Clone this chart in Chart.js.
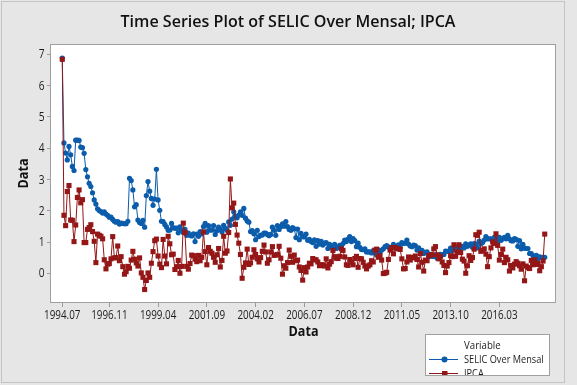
<!DOCTYPE html>
<html>
<head>
<meta charset="utf-8">
<script src="https://cdn.jsdelivr.net/npm/chart.js@4.4.1/dist/chart.umd.min.js"></script>
<style>
  html, body { margin: 0; padding: 0; background: #e6e6e6; }
  #wrap { width: 577px; height: 385px; position: relative; }
</style>
</head>
<body>
<div id="wrap"><canvas id="c"></canvas></div>
<script>
// ---- data (monthly, 1994.07 .. 2018.06) ----
const startYear = 1994, startMonth = 7;
const selic = [
  6.88, 4.17, 3.85, 3.63, 4.06, 3.79,
  3.42, 3.29, 4.26, 4.26, 4.25, 4.04, 4.02, 3.84, 3.32, 3.09, 2.88, 2.78,
  2.58, 2.35, 2.22, 2.07, 2.01, 1.98, 1.93, 1.97, 1.90, 1.86, 1.80, 1.80,
  1.73, 1.67, 1.64, 1.66, 1.58, 1.61, 1.60, 1.59, 1.59, 1.67, 3.04, 2.97,
  2.67, 2.13, 2.20, 1.71, 1.63, 1.60, 1.70, 1.48, 2.49, 2.94, 2.63, 2.40,
  2.18, 2.38, 3.33, 2.35, 2.02, 1.67, 1.66, 1.57, 1.49, 1.38, 1.39, 1.60,
  1.46, 1.45, 1.45, 1.30, 1.49, 1.39, 1.31, 1.41, 1.22, 1.29, 1.22, 1.20,
  1.27, 1.02, 1.26, 1.19, 1.34, 1.27, 1.50, 1.60, 1.32, 1.53, 1.39, 1.39,
  1.53, 1.25, 1.37, 1.48, 1.41, 1.33, 1.54, 1.44, 1.38, 1.65, 1.54, 1.74,
  1.97, 1.83, 1.78, 1.87, 1.97, 1.86, 2.08, 1.77, 1.68, 1.64, 1.34, 1.37,
  1.27, 1.08, 1.38, 1.18, 1.23, 1.23, 1.29, 1.29, 1.25, 1.21, 1.25, 1.48,
  1.38, 1.22, 1.53, 1.41, 1.50, 1.59, 1.51, 1.66, 1.50, 1.41, 1.38, 1.47,
  1.43, 1.15, 1.42, 1.08, 1.28, 1.18, 1.17, 1.26, 1.06, 1.09, 1.02, 0.99,
  1.08, 0.87, 1.05, 0.94, 1.03, 0.91, 0.97, 0.99, 0.80, 0.93, 0.84, 0.84,
  0.93, 0.80, 0.84, 0.90, 0.88, 0.96, 1.07, 1.02, 1.10, 1.18, 1.02, 1.12,
  1.05, 0.86, 0.97, 0.84, 0.77, 0.76, 0.79, 0.69, 0.69, 0.69, 0.66, 0.73,
  0.66, 0.59, 0.76, 0.67, 0.75, 0.79, 0.86, 0.89, 0.85, 0.81, 0.81, 0.93,
  0.86, 0.84, 0.92, 0.84, 0.99, 0.96, 0.97, 1.07, 0.94, 0.88, 0.86, 0.91,
  0.89, 0.75, 0.82, 0.71, 0.74, 0.64, 0.68, 0.69, 0.54, 0.61, 0.55, 0.55,
  0.60, 0.49, 0.55, 0.61, 0.60, 0.61, 0.72, 0.71, 0.71, 0.81, 0.72, 0.79,
  0.85, 0.79, 0.77, 0.82, 0.87, 0.82, 0.95, 0.87, 0.91, 0.95, 0.84, 0.96,
  0.94, 0.82, 1.04, 0.95, 0.99, 1.07, 1.18, 1.11, 1.11, 1.11, 1.06, 1.16,
  1.06, 1.00, 1.16, 1.06, 1.11, 1.16, 1.11, 1.22, 1.11, 1.05, 1.04, 1.12,
  1.09, 0.87, 1.05, 0.79, 0.93, 0.81, 0.80, 0.80, 0.64, 0.64, 0.57, 0.54,
  0.58, 0.47, 0.53, 0.52, 0.52, 0.52
];
const ipca = [
  6.84, 1.86, 1.53, 2.62, 2.81, 1.71,
  1.70, 1.02, 1.55, 2.43, 2.67, 2.26, 2.36, 0.99, 0.99, 1.41, 1.47, 1.56,
  1.34, 1.03, 0.35, 1.26, 1.22, 1.19, 1.11, 0.44, 0.15, 0.30, 0.32, 0.47,
  1.18, 0.50, 0.51, 0.88, 0.41, 0.54, 0.22, -0.02, 0.06, 0.23, 0.17, 0.43,
  0.71, 0.46, 0.34, 0.24, 0.50, 0.02, -0.12, -0.51, -0.22, 0.02, -0.12, 0.33,
  0.70, 1.05, 1.10, 0.56, 0.30, 0.19, 1.09, 0.56, 0.31, 1.19, 0.95, 0.60,
  0.62, 0.13, 0.22, 0.42, 0.01, 0.23, 1.61, 1.31, 0.23, 0.14, 0.32, 0.59,
  0.57, 0.46, 0.38, 0.58, 0.41, 0.52, 1.33, 0.70, 0.28, 0.83, 0.71, 0.65,
  0.52, 0.36, 0.60, 0.80, 0.21, 0.42, 1.19, 0.65, 0.72, 1.31, 3.02, 2.10,
  2.25, 1.57, 1.23, 0.97, 0.61, -0.15, 0.20, 0.34, 0.78, 0.29, 0.34, 0.52,
  0.76, 0.61, 0.47, 0.37, 0.51, 0.71, 0.91, 0.69, 0.33, 0.44, 0.69, 0.86,
  0.58, 0.59, 0.61, 0.87, 0.49, -0.02, 0.25, 0.17, 0.35, 0.75, 0.55, 0.36,
  0.59, 0.41, 0.43, 0.21, 0.10, -0.21, 0.19, 0.05, 0.21, 0.33, 0.31, 0.48,
  0.44, 0.44, 0.37, 0.25, 0.28, 0.28, 0.24, 0.47, 0.18, 0.30, 0.38, 0.74,
  0.54, 0.49, 0.48, 0.55, 0.79, 0.74, 0.53, 0.28, 0.26, 0.45, 0.36, 0.28,
  0.48, 0.55, 0.20, 0.48, 0.47, 0.36, 0.24, 0.15, 0.24, 0.28, 0.41, 0.37,
  0.75, 0.78, 0.52, 0.57, 0.43, 0.00, 0.01, 0.04, 0.45, 0.75, 0.83, 0.63,
  0.83, 0.80, 0.79, 0.77, 0.47, 0.15, 0.16, 0.37, 0.53, 0.43, 0.52, 0.50,
  0.56, 0.45, 0.21, 0.64, 0.36, 0.08, 0.43, 0.41, 0.57, 0.59, 0.60, 0.79,
  0.86, 0.60, 0.47, 0.55, 0.37, 0.26, 0.03, 0.24, 0.35, 0.57, 0.54, 0.92,
  0.55, 0.69, 0.92, 0.67, 0.46, 0.40, 0.01, 0.25, 0.57, 0.42, 0.51, 0.78,
  1.24, 1.22, 1.32, 0.71, 0.74, 0.79, 0.62, 0.22, 0.54, 0.82, 1.01, 0.96,
  1.27, 0.90, 0.43, 0.61, 0.78, 0.35, 0.52, 0.44, 0.08, 0.26, 0.18, 0.30,
  0.38, 0.33, 0.25, 0.14, 0.31, -0.23, 0.24, 0.19, 0.16, 0.42, 0.28, 0.44,
  0.29, 0.32, 0.09, 0.22, 0.40, 1.26
];
const xTickIndex = [0, 28, 57, 86, 115, 144, 173, 202, 231, 260];
const xTickLabels = ['1994.07','1996.11','1999.04','2001.09','2004.02','2006.07','2008.12','2011.05','2013.10','2016.03'];
const yTicks = [0, 1, 2, 3, 4, 5, 6, 7];

// month labels (categories)
const months = selic.map((_, i) => {
  const m = startMonth - 1 + i;
  const y = startYear + Math.floor(m / 12);
  const mm = (m % 12) + 1;
  return y + '.' + String(mm).padStart(2, '0');
});

const BLUE = '#0b5cab';
const RED = '#941616';
const FONT = '"Open Sans", "Noto Sans", sans-serif';
const TEXT = '#1c1c1c';

// draw text compressed horizontally (Segoe UI-like narrow look)
function txt(ctx, s, x, y, font, sx, align) {
  ctx.save();
  ctx.font = font;
  ctx.textBaseline = 'middle';
  ctx.textAlign = align;
  ctx.translate(x, y);
  ctx.scale(sx, 1);
  ctx.fillText(s, 0, 0);
  ctx.restore();
}

const deco = {
  id: 'deco',
  beforeDraw(chart) {
    const ctx = chart.ctx, a = chart.chartArea;
    ctx.save();
    ctx.fillStyle = '#e6e6e6';
    ctx.fillRect(0, 0, chart.width, chart.height);
    ctx.strokeStyle = '#c4c4c4';
    ctx.lineWidth = 1;
    ctx.strokeRect(1.5, 1.5, 563, 381);
    ctx.fillStyle = '#ffffff';
    ctx.fillRect(a.left, a.top, a.right - a.left, a.bottom - a.top);
    ctx.restore();
  },
  afterDraw(chart) {
    const ctx = chart.ctx, a = chart.chartArea;
    const xs = chart.scales.x, ys = chart.scales.y;
    ctx.save();
    ctx.strokeStyle = '#a0a0a0';
    ctx.lineWidth = 1;
    ctx.strokeRect(Math.round(a.left) - 0.5, Math.round(a.top) + 0.5, Math.round(a.right - a.left), Math.round(a.bottom - a.top) - 1);

    // tick labels
    ctx.fillStyle = TEXT;
    xs.ticks.forEach(t => {
      const k = xTickIndex.indexOf(t.value);
      const label = k >= 0 ? xTickLabels[k] : months[t.value];
      txt(ctx, label, xs.getPixelForValue(t.value), 315.5, '12px ' + FONT, 0.82, 'center');
    });
    ys.ticks.forEach(t => {
      txt(ctx, String(t.value), 44.5, ys.getPixelForValue(t.value) + 0.5, '12px ' + FONT, 0.85, 'right');
    });

    // title
    ctx.fillStyle = '#111';
    txt(ctx, 'Time Series Plot of SELIC Over Mensal; IPCA', 288, 22, '600 17px ' + FONT, 0.945, 'center');
    // axis titles
    txt(ctx, 'Data', (a.left + a.right) / 2, 332, 'bold 14px ' + FONT, 0.9, 'center');
    ctx.save();
    ctx.translate(24, (a.top + a.bottom) / 2);
    ctx.rotate(-Math.PI / 2);
    txt(ctx, 'Data', 0, 0, 'bold 14px ' + FONT, 0.9, 'center');
    ctx.restore();

    // legend
    const L = 425.5, T = 334.5, R = 549.5, B = 375.5;
    ctx.fillStyle = '#ffffff';
    ctx.fillRect(L, T, R - L, B - T);
    ctx.strokeStyle = '#a0a0a0';
    ctx.strokeRect(L, T, R - L, B - T);
    ctx.beginPath();
    ctx.rect(L + 0.5, T + 0.5, R - L - 1, B - T - 1);
    ctx.clip();
    ctx.fillStyle = TEXT;
    txt(ctx, 'Variable', 464, 346, '11.5px ' + FONT, 0.84, 'left');
    const rows = [
      {name: 'SELIC Over Mensal', color: BLUE, shape: 'circle', y: 359},
      {name: 'IPCA', color: RED, shape: 'rect', y: 373}
    ];
    rows.forEach(r => {
      ctx.strokeStyle = r.color;
      ctx.lineWidth = 1;
      ctx.beginPath();
      ctx.moveTo(429, r.y + 0.5);
      ctx.lineTo(458, r.y + 0.5);
      ctx.stroke();
      ctx.fillStyle = r.color;
      if (r.shape === 'circle') {
        ctx.beginPath();
        ctx.arc(444.5, r.y + 0.5, 3, 0, Math.PI * 2);
        ctx.fill();
      } else {
        ctx.fillRect(442, r.y - 2, 5.5, 5.5);
      }
      ctx.fillStyle = TEXT;
      txt(ctx, r.name, 464, r.y + 0.5, '11.5px ' + FONT, 0.8, 'left');
    });
    ctx.restore();
  }
};

new Chart(document.getElementById('c'), {
  type: 'line',
  data: {
    datasets: [
      {
        label: 'SELIC Over Mensal',
        data: selic.map((v, i) => ({x: i, y: v})),
        borderColor: BLUE, backgroundColor: BLUE,
        borderWidth: 1, pointStyle: 'circle', pointRadius: 2.6,
        pointBorderWidth: 0, pointBackgroundColor: BLUE,
        tension: 0, order: 1
      },
      {
        label: 'IPCA',
        data: ipca.map((v, i) => ({x: i, y: v})),
        borderColor: RED, backgroundColor: RED,
        borderWidth: 1, pointStyle: 'rect', pointRadius: 3.6,
        pointBorderWidth: 0, pointBackgroundColor: RED,
        tension: 0, order: 0
      }
    ]
  },
  options: {
    responsive: true,
    maintainAspectRatio: false,
    animation: false,
    events: [],
    layout: { padding: { left: 0, top: 44, right: 21, bottom: 0 } },
    plugins: { legend: { display: false }, title: { display: false }, tooltip: { enabled: false } },
    scales: {
      x: {
        type: 'linear', min: -6.7, max: 293.7,
        afterBuildTicks: s => { s.ticks = xTickIndex.map(v => ({value: v})); },
        afterFit: s => { s.height = 82; },
        ticks: { display: false, autoSkip: false, maxRotation: 0 },
        grid: { drawOnChartArea: false, drawTicks: true, tickLength: 4, color: '#9a9a9a' },
        border: { display: false }
      },
      y: {
        type: 'linear', min: -0.94, max: 7.33,
        afterBuildTicks: s => { s.ticks = yTicks.map(v => ({value: v})); },
        afterFit: s => { s.width = 51; },
        ticks: { display: false },
        grid: { drawOnChartArea: false, drawTicks: true, tickLength: 4, color: '#9a9a9a' },
        border: { display: false }
      }
    }
  },
  plugins: [deco]
});
</script>
</body>
</html>
